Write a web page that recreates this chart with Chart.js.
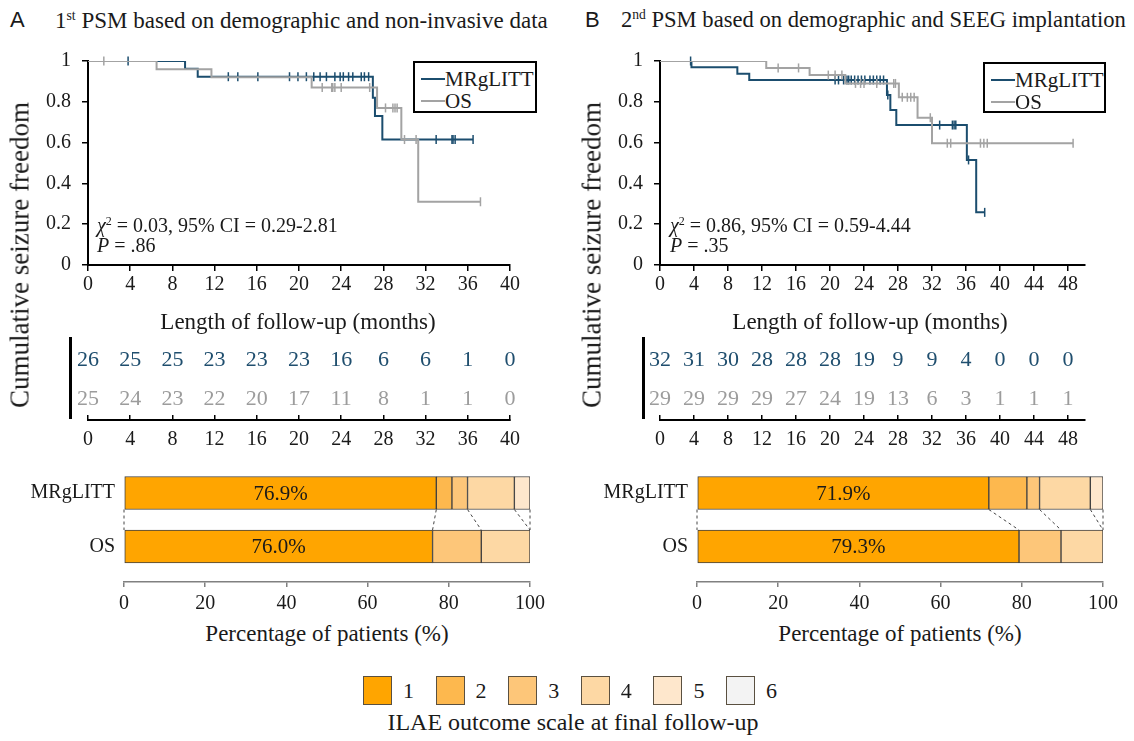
<!DOCTYPE html>
<html>
<head>
<meta charset="utf-8">
<title>MRgLITT vs OS seizure freedom</title>
<script src="https://cdn.jsdelivr.net/npm/chart.js@4.4.1/dist/chart.umd.min.js"></script>
<style>
  body { margin: 0; background: #fff; font-family: "Liberation Serif", "Times New Roman", serif; color: #1a1a1a; }
  #page { position: relative; width: 1134px; height: 741px; overflow: hidden; }
  canvas { position: absolute; }
  .t { position: absolute; white-space: nowrap; line-height: 1; transform: translate(-50%, -50%); }
  .l { position: absolute; white-space: nowrap; line-height: 1; transform: translateY(-50%); }
  .rot { transform: translate(-50%, -50%) rotate(-90deg); }
  .sup { font-size: 0.6em; position: relative; top: -0.6em; }
  .sans { font-family: "Liberation Sans", Arial, sans-serif; }
  .box { position: absolute; border: 2px solid #000; background: #fff; box-sizing: border-box; }
  .swatch { position: absolute; height: 2px; width: 24px; left: 6px; }
  .bar { position: absolute; width: 3px; background: #000; }
  .sq { position: absolute; width: 29px; height: 29px; box-sizing: border-box; border: 1.5px solid #5a5040; }
</style>
</head>
<body>
<div id="page">
  <canvas id="kmA" width="510" height="250" style="left:30px;top:50px"></canvas>
  <canvas id="kmB" width="510" height="250" style="left:602px;top:50px"></canvas>
  <canvas id="riskA" width="510" height="130" style="left:30px;top:330px"></canvas>
  <canvas id="riskB" width="510" height="130" style="left:602px;top:330px"></canvas>
  <canvas id="ilaeA" width="540" height="161" style="left:10px;top:456px"></canvas>
  <canvas id="ilaeB" width="540" height="161" style="left:583px;top:456px"></canvas>

  <div class="l sans" style="left:10px;top:20px;font-size:22px">A</div>
  <div class="l" style="left:55px;top:20px;font-size:23px">1<span class="sup">st</span> PSM based on demographic and non-invasive data</div>
  <div class="l sans" style="left:585px;top:20px;font-size:22px">B</div>
  <div class="l" style="left:621px;top:20px;font-size:22.6px">2<span class="sup">nd</span> PSM based on demographic and SEEG implantation</div>

  <div class="t rot" style="left:20px;top:255px;font-size:27px">Cumulative seizure freedom</div>
  <div class="t rot" style="left:592px;top:255px;font-size:27px">Cumulative seizure freedom</div>
  <div class="t" style="left:298px;top:321px;font-size:23px">Length of follow-up (months)</div>
  <div class="t" style="left:870px;top:321px;font-size:23px">Length of follow-up (months)</div>

  <div class="l" style="left:97px;top:225px;font-size:20px"><i>χ</i><span class="sup">2</span> = 0.03, 95% CI = 0.29-2.81</div>
  <div class="l" style="left:97px;top:245px;font-size:20px"><i>P</i> = .86</div>
  <div class="l" style="left:670px;top:225px;font-size:20px"><i>χ</i><span class="sup">2</span> = 0.86, 95% CI = 0.59-4.44</div>
  <div class="l" style="left:670px;top:245px;font-size:20px"><i>P</i> = .35</div>

  <div class="box" style="left:413px;top:61px;width:124px;height:52px">
    <div class="swatch" style="top:15px;background:#1b4d6e"></div>
    <div class="l" style="left:30px;top:16px;font-size:21px">MRgLITT</div>
    <div class="swatch" style="top:37px;background:#a3a3a3"></div>
    <div class="l" style="left:30px;top:38px;font-size:21px">OS</div>
  </div>
  <div class="box" style="left:983px;top:62px;width:123px;height:51px">
    <div class="swatch" style="top:15px;background:#1b4d6e"></div>
    <div class="l" style="left:30px;top:16px;font-size:21px">MRgLITT</div>
    <div class="swatch" style="top:37px;background:#a3a3a3"></div>
    <div class="l" style="left:30px;top:38px;font-size:21px">OS</div>
  </div>

  <div class="bar" style="left:69px;top:337px;height:82px"></div>
  <div class="bar" style="left:642px;top:337px;height:82px"></div>

  <div class="t" style="left:327px;top:633px;font-size:23px">Percentage of patients (%)</div>
  <div class="t" style="left:900px;top:633px;font-size:23px">Percentage of patients (%)</div>

  <div id="ilaeLegend"></div>
  <div class="t" style="left:573px;top:722px;font-size:24px">ILAE outcome scale at final follow-up</div>
</div>

<script>
// ---- data ----
const ticksA = [0, 4, 8, 12, 16, 20, 24, 28, 32, 36, 40];
const ticksB = [0, 4, 8, 12, 16, 20, 24, 28, 32, 36, 40, 44, 48];
const survTicks = [0, 0.2, 0.4, 0.6, 0.8, 1];

// KM steps: time of each drop and the value after it, plus censor times
const kmA_littT = [0, 9.2, 10.4, 27.0, 27.2, 27.9, 36.5];
const kmA_littS = [1, 0.962, 0.923, 0.82, 0.73, 0.615, 0.615];
const kmA_littC = [3.8, 13.3, 14.2, 16.1, 19.1, 19.9, 20.7, 21.4, 22.0, 22.6, 23.4, 23.9, 24.2, 24.7, 25.1, 25.9, 26.2, 26.6, 33.0, 34.5, 34.6, 34.8, 36.5];
const kmA_osT = [0, 6.5, 11.7, 21.2, 27.4, 29.7, 31.3, 37.2];
const kmA_osS = [1, 0.96, 0.92, 0.87, 0.77, 0.615, 0.31, 0.31];
const kmA_osC = [1.5, 22.2, 23.1, 23.2, 23.4, 24.0, 26.7, 28.2, 28.9, 29.1, 29.3, 30.0, 31.1, 37.2];

const kmB_littT = [0, 3.7, 9.1, 10.5, 26.7, 27.1, 27.8, 36.1, 37.2, 38.2];
const kmB_littS = [1, 0.969, 0.937, 0.907, 0.833, 0.76, 0.686, 0.515, 0.258, 0.258];
const kmB_littC = [3.6, 20.6, 21.0, 21.6, 22.0, 22.2, 22.5, 22.9, 23.3, 23.7, 24.1, 24.7, 25.1, 25.5, 25.9, 26.3, 26.8, 32.9, 34.4, 34.6, 34.8, 36.3, 38.2];
const kmB_osT = [0, 12.5, 17.6, 21.8, 28.1, 30.3, 32.0, 48.6];
const kmB_osS = [1, 0.966, 0.931, 0.89, 0.822, 0.722, 0.597, 0.597];
const kmB_osC = [13.9, 16.3, 19.8, 20.6, 21.4, 23.0, 23.6, 24.0, 25.5, 27.5, 27.7, 28.5, 29.1, 29.5, 29.9, 31.8, 33.8, 34.2, 37.7, 38.1, 38.5, 48.6];

// numbers at risk at each tick
const riskA_litt = [26, 25, 25, 23, 23, 23, 16, 6, 6, 1, 0];
const riskA_os = [25, 24, 23, 22, 20, 17, 11, 8, 1, 1, 0];
const riskB_litt = [32, 31, 30, 28, 28, 28, 19, 9, 9, 4, 0, 0, 0];
const riskB_os = [29, 29, 29, 29, 27, 24, 19, 13, 6, 3, 1, 1, 1];

// ILAE class counts (1..6)
const groups = ["MRgLITT", "OS"];
const ilaeLevels = ["1", "2", "3", "4", "5", "6"];
const ilaeColors = ["#ffa500", "#fdb84e", "#fdc679", "#fdd8a4", "#fee7cc", "#f3f3f3"];
const ilaeA_litt = [20, 1, 1, 3, 1, 0];
const ilaeA_os = [19, 0, 3, 3, 0, 0];
const ilaeB_litt = [23, 3, 1, 4, 1, 0];
const ilaeB_os = [23, 0, 3, 3, 0, 0];
const linkAfter = [0, 1, 3, 4, 6]; // dashed links after this many classes

// ---- setup ----
const SERIF = '"Liberation Serif", "Times New Roman", serif';
const LITT = "#1b4d6e", OSC = "#a3a3a3";
Chart.defaults.font.family = SERIF;
Chart.defaults.color = "#1a1a1a";
Chart.defaults.animation = false;
Chart.defaults.responsive = false;
Chart.defaults.plugins.legend.display = false;
Chart.defaults.plugins.tooltip.enabled = false;

const stepData = (t, s) => t.map((v, i) => ({ x: v, y: s[i] }));
function survAt(t, s, time) {
  let y = s[0];
  for (let i = 0; i < t.length; i++) if (t[i] <= time) y = s[i];
  return y;
}
const censData = (t, s, c) => c.map(v => ({ x: v, y: survAt(t, s, v) }));
const fixTicks = vals => s => { s.ticks = vals.map(v => ({ value: v })); };
const sum = a => a.reduce((p, v) => p + v, 0);
// fixed axis width, no label overhang padding (layout padding does that job)
const yFit = w => s => { s.width = w; s.paddingTop = 0; s.paddingBottom = 0; };

function kmChart(id, xTicks, xMax, padRight, series) {
  const datasets = [];
  series.forEach(sr => {
    datasets.push({ data: stepData(sr.t, sr.s), borderColor: sr.color, borderWidth: 2, pointRadius: 0, stepped: true });
    datasets.push({ data: censData(sr.t, sr.s, sr.c), showLine: false, pointStyle: "line", rotation: 90,
      pointRadius: 4.5, borderColor: sr.color, borderWidth: 1.5, clip: false });
  });
  return new Chart(document.getElementById(id), {
    type: "line",
    data: { datasets },
    options: {
      layout: { padding: { top: 11, right: padRight, left: 0, bottom: 0 } },
      scales: {
        x: { type: "linear", min: 0, max: xMax, afterBuildTicks: fixTicks(xTicks), afterFit: s => { s.height = 35; },
          border: { color: "#000", width: 2 },
          grid: { drawOnChartArea: false, color: "#000", lineWidth: 1.5, tickLength: 6 },
          ticks: { font: { size: 20 }, padding: 2, maxRotation: 0, autoSkip: false } },
        y: { min: 0, max: 1, afterBuildTicks: fixTicks(survTicks), afterFit: yFit(58),
          border: { color: "#000", width: 2 },
          grid: { drawOnChartArea: false, color: "#000", lineWidth: 1.5, tickLength: 6 },
          ticks: { font: { size: 20 }, padding: 11, callback: v => String(v) } },
      },
    },
  });
}

const riskText = {
  id: "riskText",
  afterDatasetsDraw(chart) {
    const ctx = chart.ctx;
    ctx.save();
    ctx.font = "22px " + SERIF;
    ctx.textAlign = "center";
    ctx.textBaseline = "middle";
    chart.data.datasets.forEach((ds, i) => {
      ctx.fillStyle = ds.textColor;
      chart.getDatasetMeta(i).data.forEach((p, j) => ctx.fillText(String(ds.counts[j]), p.x, p.y));
    });
    ctx.restore();
  },
};

function riskChart(id, xTicks, xMax, padRight, litt, os) {
  return new Chart(document.getElementById(id), {
    type: "scatter",
    data: { datasets: [
      { data: xTicks.map(t => ({ x: t, y: 1 })), counts: litt, textColor: "#1f4e6e", pointRadius: 0 },
      { data: xTicks.map(t => ({ x: t, y: 0 })), counts: os, textColor: "#9c9c9c", pointRadius: 0 },
    ] },
    options: {
      layout: { padding: { top: 5, right: padRight, left: 58, bottom: 0 } },
      scales: {
        x: { min: 0, max: xMax, afterBuildTicks: fixTicks(xTicks), afterFit: s => { s.height = 40; },
          border: { color: "#000", width: 2 },
          grid: { drawOnChartArea: false, color: "#000", lineWidth: 1.5, tickLength: -5 },
          ticks: { font: { size: 20 }, padding: 13, maxRotation: 0, autoSkip: false } },
        y: { display: false, min: -0.538, max: 1.641 },
      },
    },
    plugins: [riskText],
  });
}

const pctLabel = {
  id: "pctLabel",
  afterDatasetsDraw(chart) {
    const ctx = chart.ctx, ds = chart.data.datasets[0];
    ctx.save();
    ctx.font = "21px " + SERIF;
    ctx.fillStyle = "#1a1a1a";
    ctx.textAlign = "center";
    ctx.textBaseline = "middle";
    chart.getDatasetMeta(0).data.forEach((bar, j) => {
      ctx.fillText(ds.data[j].x.toFixed(1) + "%", (bar.x + bar.base) / 2, bar.y + 1);
    });
    ctx.restore();
  },
};

const links = {
  id: "links",
  afterDatasetsDraw(chart) {
    const ctx = chart.ctx, xs = chart.scales.x, ds = chart.data.datasets;
    const [a, b] = chart.getDatasetMeta(0).data;
    const y1 = a.y + a.height / 2, y2 = b.y - b.height / 2;
    ctx.save();
    ctx.setLineDash([3, 3]);
    ctx.strokeStyle = "#444";
    ctx.lineWidth = 1;
    linkAfter.forEach(k => {
      let u = 0, w = 0;
      for (let i = 0; i < k; i++) { u += ds[i].data[0].x; w += ds[i].data[1].x; }
      ctx.beginPath();
      ctx.moveTo(xs.getPixelForValue(u), y1);
      ctx.lineTo(xs.getPixelForValue(w), y2);
      ctx.stroke();
    });
    ctx.restore();
  },
};

function ilaeChart(id, padRight, litt, os) {
  const nl = sum(litt), no = sum(os);
  return new Chart(document.getElementById(id), {
    type: "bar",
    data: { datasets: ilaeLevels.map((lvl, k) => ({
      label: lvl,
      data: [{ x: litt[k] / nl * 100, y: 0 }, { x: os[k] / no * 100, y: 1 }],
      backgroundColor: ilaeColors[k], borderColor: "#404040", borderWidth: 1, borderSkipped: false, barThickness: 33,
    })) },
    options: {
      indexAxis: "y",
      layout: { padding: { top: 10, right: padRight, left: 0, bottom: 0 } },
      scales: {
        x: { stacked: true, min: 0, max: 100, afterFit: s => { s.height = 35; },
          border: { color: "#808080", width: 1.5 },
          grid: { drawOnChartArea: false, color: "#808080", lineWidth: 1.5, tickLength: 5 },
          ticks: { stepSize: 20, font: { size: 20 }, padding: 5, maxRotation: 0 } },
        y: { type: "linear", stacked: true, reverse: true, offset: false, min: -0.505, max: 1.664,
          afterBuildTicks: fixTicks(groups.map((g, i) => i)), afterFit: yFit(114),
          border: { display: false }, grid: { display: false, offset: false, drawTicks: false },
          ticks: { font: { size: 20 }, padding: 9, callback: v => groups[v] } },
      },
    },
    plugins: [pctLabel, links],
  });
}

kmChart("kmA", ticksA, 40, 30, [
  { t: kmA_osT, s: kmA_osS, c: kmA_osC, color: OSC },
  { t: kmA_littT, s: kmA_littS, c: kmA_littC, color: LITT },
]);
kmChart("kmB", ticksB, 50, 27, [
  { t: kmB_osT, s: kmB_osS, c: kmB_osC, color: OSC },
  { t: kmB_littT, s: kmB_littS, c: kmB_littC, color: LITT },
]);
riskChart("riskA", ticksA, 40, 30, riskA_litt, riskA_os);
riskChart("riskB", ticksB, 50, 27, riskB_litt, riskB_os);
ilaeChart("ilaeA", 18, ilaeA_litt, ilaeA_os);
ilaeChart("ilaeB", 19, ilaeB_litt, ilaeB_os);

// ILAE legend squares
const leg = document.getElementById("ilaeLegend");
ilaeLevels.forEach((lvl, k) => {
  const x = 363 + k * 72.6;
  leg.insertAdjacentHTML("beforeend",
    `<div class="sq" style="left:${x}px;top:676px;background:${ilaeColors[k]}"></div>` +
    `<div class="l" style="left:${x + 40}px;top:691px;font-size:22px">${lvl}</div>`);
});
</script>
</body>
</html>
